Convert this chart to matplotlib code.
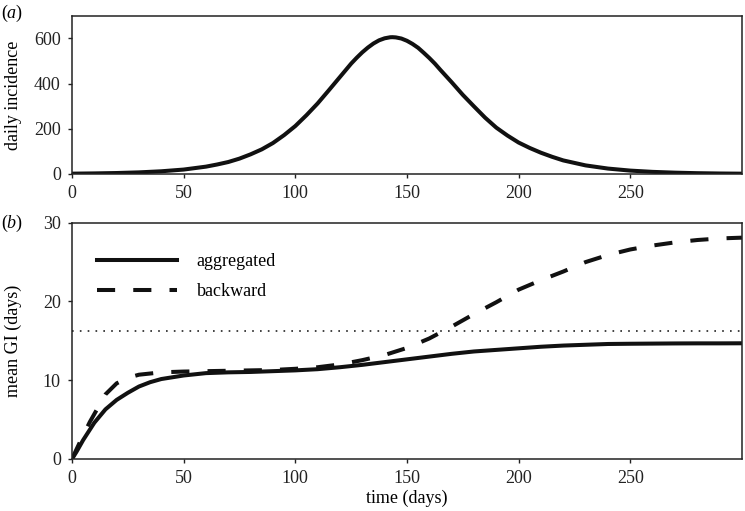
import matplotlib
matplotlib.use("Agg")
from matplotlib import pyplot as plt

plt.rcParams["font.family"] = ["Liberation Serif", "DejaVu Serif"]
plt.rcParams["mathtext.fontset"] = "custom"
plt.rcParams["mathtext.rm"] = "Liberation Serif"
plt.rcParams["mathtext.it"] = "Liberation Serif:italic"
plt.rcParams["font.size"] = 13

# panel (a): daily incidence
inc_days = [0, 10, 20, 30, 40, 50, 60, 65, 70, 75, 80, 85, 90, 95, 100, 105,
            110, 115, 120, 125, 127.5, 130, 132.5, 135, 137.5, 140, 142.5,
            143.5, 145, 147.5, 150, 152.5, 155, 157.5, 160, 162.5, 165, 170,
            175, 180, 185, 190, 195, 200, 205, 210, 215, 220, 230, 240, 250,
            260, 270, 280, 290, 300]
incidence = [1.5, 2.6, 4.3, 7.2, 12, 19.6, 32.5, 42, 53, 68, 87, 109, 137, 172,
             212, 260, 312, 370, 429, 488, 514, 538, 559, 577, 591, 600, 604.6,
             605, 604, 599, 589, 575, 558, 536, 513, 488, 460, 406, 350, 299,
             249, 205, 170, 139, 115, 94, 76, 60, 38, 24, 15, 9.4, 5.9, 3.6,
             2.2, 1.4]

# panel (b): mean generation interval
agg_days = [0, 2, 5, 10, 15, 20, 25, 30, 35, 40, 50, 60, 70, 80, 90, 100, 110,
            120, 130, 140, 150, 160, 170, 180, 190, 200, 210, 220, 230, 240,
            250, 260, 270, 280, 290, 300]
aggregated = [0, 0.9, 2.4, 4.6, 6.3, 7.5, 8.4, 9.2, 9.75, 10.15, 10.6, 10.9,
              11.0, 11.05, 11.15, 11.25, 11.4, 11.65, 11.95, 12.3, 12.65,
              13.0, 13.35, 13.65, 13.85, 14.05, 14.25, 14.4, 14.5, 14.6,
              14.63, 14.65, 14.67, 14.68, 14.68, 14.69]

bwd_days = [0, 2, 4, 8, 11, 15, 20, 25, 30, 40, 50, 60, 70, 80, 90, 100, 110,
            120, 130, 140, 150, 160, 170, 180, 190, 200, 210, 220, 230, 240,
            250, 260, 270, 280, 290, 300]
backward = [0, 1.2, 2.4, 4.7, 6.2, 8.2, 9.6, 10.3, 10.7, 11.0, 11.1, 11.15,
            11.2, 11.25, 11.3, 11.45, 11.65, 12.0, 12.55, 13.2, 14.1, 15.3,
            16.8, 18.4, 19.9, 21.5, 22.7, 23.8, 25.0, 25.9, 26.6, 27.1, 27.5,
            27.8, 28.0, 28.1]

intrinsic_mean = 16.3

x_ticks = [0, 50, 100, 150, 200, 250]

fig = plt.figure(figsize=(7.45, 5.11), dpi=100)
ax1 = fig.add_axes([0.0966, 0.6595, 0.8993, 0.3098])
ax2 = fig.add_axes([0.0966, 0.1018, 0.8993, 0.4624])

for ax in (ax1, ax2):
    for sp in ax.spines.values():
        sp.set_linewidth(1.1)
        sp.set_color("#222222")
    ax.tick_params(direction="out", length=3, width=1, pad=5,
                   top=False, right=False, labelsize=13, colors="#222222")
    ax.set_xlim(0, 300)
    ax.set_xticks(x_ticks)

ax1.plot(inc_days, incidence, color="#111111", lw=2.9)
ax1.set_ylim(0, 700)
ax1.set_yticks([0, 200, 400, 600])
ax1.set_ylabel("daily incidence", fontsize=13)
ax1.yaxis.set_label_coords(-0.074, 0.5)

ax2.axhline(intrinsic_mean, color="#222222", lw=1.2, linestyle=(0, (1, 3.7)))
ax2.plot(agg_days, aggregated, color="#111111", lw=2.9, label="aggregated")
ax2.plot(bwd_days, backward, color="#111111", lw=2.9,
         linestyle=(0, (4.5, 4.5)), label="backward")
ax2.set_ylim(0, 30)
ax2.set_yticks([0, 10, 20, 30])
ax2.set_ylabel("mean GI (days)", fontsize=13)
ax2.yaxis.set_label_coords(-0.074, 0.5)
ax2.set_xlabel("time (days)", fontsize=13, labelpad=2)
ax2.legend(loc="upper left", bbox_to_anchor=(0.013, 0.94), frameon=False,
           handlelength=4.45, handletextpad=1.07, labelspacing=0.72,
           fontsize=13)

fig.text(0.002, 1 - 13 / 511, "($a$)", fontsize=13, va="center", ha="left")
fig.text(0.002, 1 - 223 / 511, "($b$)", fontsize=13, va="center", ha="left")

fig.savefig("out.png", dpi=100)
